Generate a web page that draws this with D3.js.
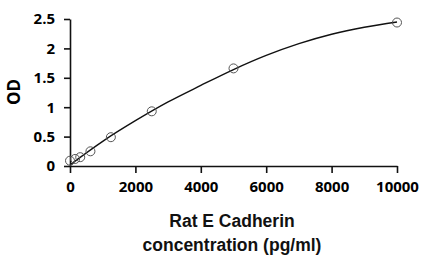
<!DOCTYPE html>
<html>
<head>
<meta charset="utf-8">
<script src="https://cdn.jsdelivr.net/npm/d3@7"></script>
<style>
  body { margin: 0; background: #fff; }
  svg { display: block; }
</style>
</head>
<body>
<svg width="421" height="256"></svg>
<script>
// standard points (pg/ml, OD)
var concentration = [0, 156.25, 312.5, 625, 1250, 2500, 5000, 10000];
var od = [0.09, 0.12, 0.15, 0.25, 0.49, 0.93, 1.66, 2.44];

// fitted curve
var fitX = [0, 1000, 2000, 3000, 4000, 5000, 6000, 7000, 8000, 9000, 10000];
var fitY = [0.02, 0.42, 0.77, 1.09, 1.37, 1.64, 1.88, 2.08, 2.24, 2.36, 2.45];

var xTicks = [0, 2000, 4000, 6000, 8000, 10000];
var yTicks = [0, 0.5, 1, 1.5, 2, 2.5];

var svg = d3.select('svg');

var x = d3.scaleLinear().domain([0, 10000]).range([70, 397]);
var y = d3.scaleLinear().domain([0, 2.5]).range([166, 19]);

svg.append('g')
    .attr('transform', 'translate(0,166)')
    .call(d3.axisBottom(x).tickValues(xTicks).tickSize(7).tickPadding(8).tickSizeOuter(0)
        .tickFormat(d3.format('d')));

svg.append('g')
    .attr('transform', 'translate(70,0)')
    .call(d3.axisLeft(y).tickValues(yTicks).tickSize(6).tickPadding(9).tickSizeOuter(0)
        .tickFormat(function(d){ return String(d); }));

svg.selectAll('.domain, .tick line')
    .attr('stroke', '#111')
    .attr('stroke-width', 1.6);

svg.selectAll('.tick text')
    .attr('fill', '#000')
    .style('font-family', '"Open Sans", sans-serif')
    .style('font-weight', 'bold')
    .style('font-size', '15px');

// fitted curve
var fit = fitX.map(function(v, i){ return [v, fitY[i]]; });
svg.append('path')
    .datum(fit)
    .attr('fill', 'none')
    .attr('stroke', '#111')
    .attr('stroke-width', 1.4)
    .attr('d', d3.line()
        .x(function(d){ return x(d[0]); })
        .y(function(d){ return y(d[1]); })
        .curve(d3.curveMonotoneX));

// data points
svg.append('g').selectAll('circle')
    .data(concentration)
    .enter()
    .append('circle')
    .attr('cx', function(d){ return x(d); })
    .attr('cy', function(d, i){ return y(od[i]); })
    .attr('r', 4.5)
    .attr('fill', 'none')
    .attr('stroke', '#555')
    .attr('stroke-width', 1);

// axis titles
svg.append('text')
    .attr('transform', 'translate(20,92) rotate(-90)')
    .attr('text-anchor', 'middle')
    .style('font-family', '"Open Sans", sans-serif')
    .style('font-weight', 'bold')
    .style('font-size', '17px')
    .attr('fill', '#000')
    .text('OD');

var title = svg.append('text')
    .attr('text-anchor', 'middle')
    .style('font-family', '"Liberation Sans", Arial, sans-serif')
    .style('font-weight', 'bold')
    .style('font-size', '17.5px')
    .attr('fill', '#111');
title.append('tspan').attr('x', 232).attr('y', 227).text('Rat E Cadherin');
title.append('tspan').attr('x', 232).attr('y', 251).text('concentration (pg/ml)');
</script>
</body>
</html>
